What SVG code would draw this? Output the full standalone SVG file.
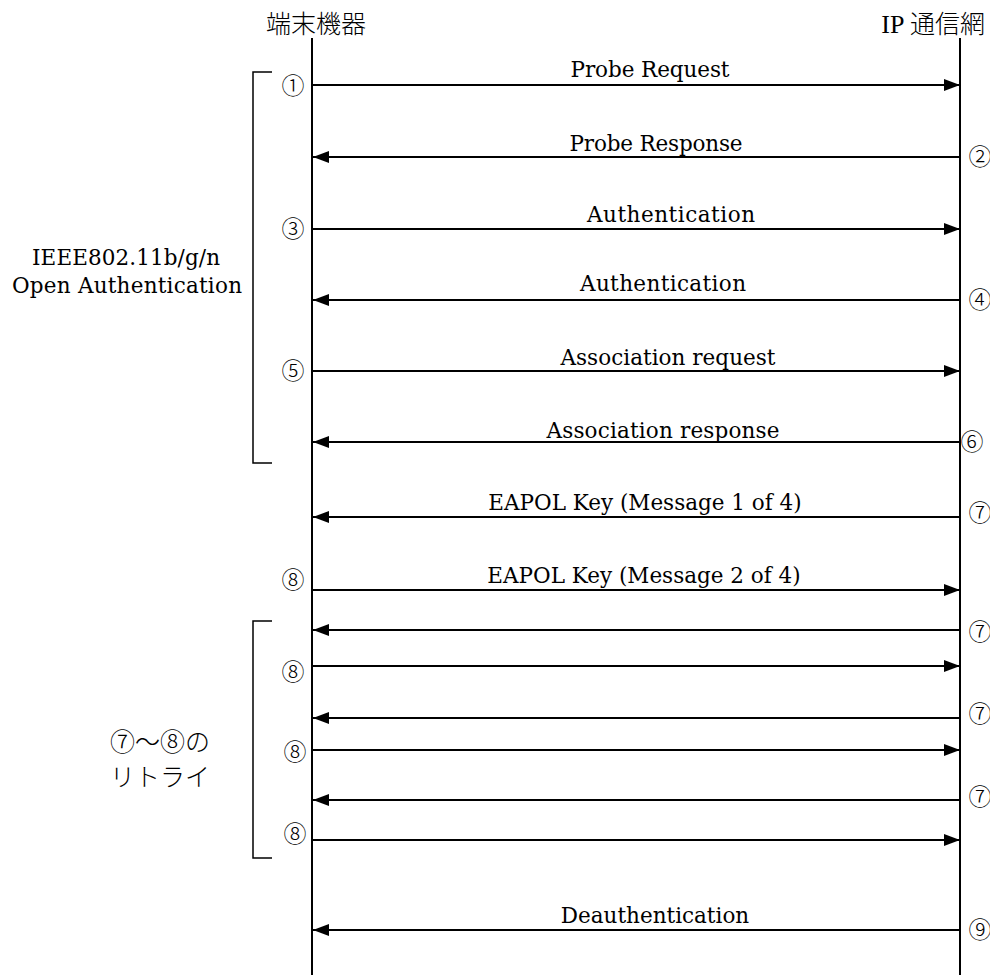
<svg xmlns="http://www.w3.org/2000/svg" width="990" height="975" viewBox="0 0 990 975">
<style>
.t{font-family:"DejaVu Serif","Liberation Serif","Noto Sans CJK JP",serif;font-size:21.5px;fill:#000}
.m{text-anchor:middle}
.j{font-family:"Noto Sans CJK JP",sans-serif;font-size:25px;font-weight:300;fill:#000}
.n{font-family:"Noto Sans CJK JP",serif;font-size:23px;font-weight:300;fill:#000;text-anchor:middle}
.ln{stroke:#000;stroke-width:2;fill:none}
.br{stroke:#000;stroke-width:1.5;fill:none}
.r{stroke:#000;stroke-width:2;fill:none;marker-end:url(#ah)}
</style>
<defs>
<marker id="ah" markerWidth="16" markerHeight="12" refX="16" refY="6" orient="auto" markerUnits="userSpaceOnUse">
<path d="M0,0 L16,6 L0,12 Z" fill="#000"/>
</marker>
</defs>
<rect width="990" height="975" fill="#fff"/>
<g id="terminal">
<text class="j m" x="316" y="33">端末機器</text>
<line class="ln" x1="312" y1="38" x2="312" y2="975"/>
</g>
<g id="network">
<text class="j" x="985" y="33" text-anchor="end"><tspan font-family="Liberation Serif" font-weight="400" font-size="26">IP</tspan> 通信網</text>
<line class="ln" x1="960" y1="38" x2="960" y2="975"/>
</g>
<g id="bracket-open">
<path class="br" d="M272,72 H253 V463 H272"/>
<text class="t m" x="126" y="265" textLength="188">IEEE802.11b/g/n</text>
<text class="t m" x="127" y="293" textLength="230">Open Authentication</text>
</g>
<g id="bracket-retry">
<path class="br" d="M272,621 H253 V858 H272"/>
<text class="j m" x="160" y="751" font-size="21">⑦～⑧の</text>
<text class="j m" x="160" y="786" font-size="21">リトライ</text>
</g>
<g id="connectors">
<line class="r" x1="313" y1="85" x2="960" y2="85"/>
<line class="r" x1="959" y1="157" x2="313" y2="157"/>
<line class="r" x1="313" y1="229" x2="960" y2="229"/>
<line class="r" x1="959" y1="300" x2="313" y2="300"/>
<line class="r" x1="313" y1="371" x2="960" y2="371"/>
<line class="r" x1="959" y1="442" x2="313" y2="442"/>
<line class="r" x1="959" y1="517" x2="313" y2="517"/>
<line class="r" x1="313" y1="590" x2="960" y2="590"/>
<line class="r" x1="959" y1="630" x2="313" y2="630"/>
<line class="r" x1="313" y1="666" x2="960" y2="666"/>
<line class="r" x1="959" y1="718" x2="313" y2="718"/>
<line class="r" x1="313" y1="750" x2="960" y2="750"/>
<line class="r" x1="959" y1="800" x2="313" y2="800"/>
<line class="r" x1="313" y1="840" x2="960" y2="840"/>
<line class="r" x1="959" y1="930" x2="313" y2="930"/>
</g>
<g id="labels">
<text class="t m" x="650" y="77" textLength="159">Probe Request</text>
<text class="t m" x="656" y="151" textLength="173">Probe Response</text>
<text class="t m" x="671" y="222" textLength="168">Authentication</text>
<text class="t m" x="663" y="291" textLength="166">Authentication</text>
<text class="t m" x="668" y="365" textLength="215">Association request</text>
<text class="t m" x="663" y="438" textLength="233">Association response</text>
<text class="t m" x="645" y="510">EAPOL Key (Message 1 of 4)</text>
<text class="t m" x="644" y="583">EAPOL Key (Message 2 of 4)</text>
<text class="t m" x="655" y="923">Deauthentication</text>
</g>
<g id="numbers">
<text class="n" x="293" y="94">①</text>
<text class="n" x="980" y="165">②</text>
<text class="n" x="293" y="237">③</text>
<text class="n" x="980" y="308">④</text>
<text class="n" x="293" y="379">⑤</text>
<text class="n" x="972" y="450">⑥</text>
<text class="n" x="980" y="521">⑦</text>
<text class="n" x="293" y="588">⑧</text>
<text class="n" x="980" y="640">⑦</text>
<text class="n" x="293" y="680">⑧</text>
<text class="n" x="980" y="722">⑦</text>
<text class="n" x="295" y="760">⑧</text>
<text class="n" x="980" y="805">⑦</text>
<text class="n" x="295" y="842">⑧</text>
<text class="n" x="980" y="938">⑨</text>
</g>
</svg>
